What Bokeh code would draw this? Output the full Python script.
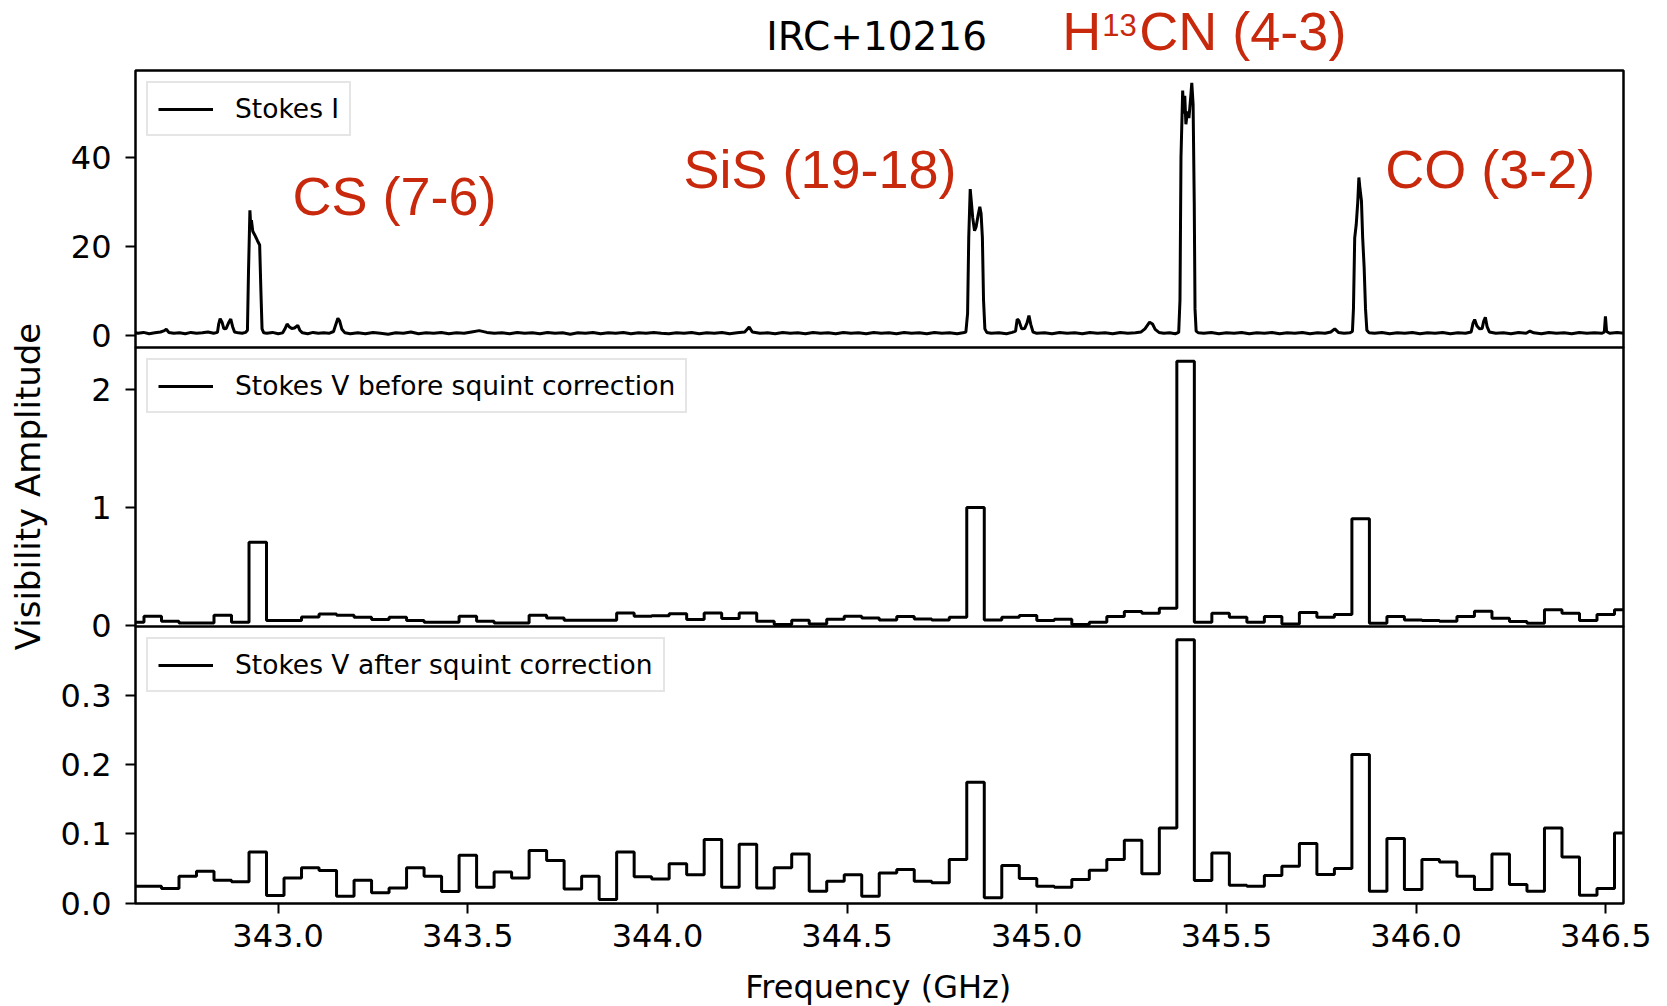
import numpy as np
from bokeh.plotting import figure
from bokeh.layouts import column, row
from bokeh.models import Range1d, FixedTicker, NumeralTickFormatter, Label
from bokeh.embed import file_html
from bokeh.resources import INLINE

# ---------------- data ----------------
# Stokes I spectrum: frequency (GHz) and visibility amplitude
stokes_i_freq = [
    342.600, 342.615, 342.630, 342.645, 342.660, 342.675, 342.690, 342.700, 342.705, 342.712,
    342.725, 342.740, 342.755, 342.770, 342.785, 342.800, 342.815, 342.830, 342.840,
    342.843, 342.847, 342.852, 342.857, 342.863, 342.869, 342.875, 342.880, 342.885, 342.895,
    342.905, 342.914,
    342.919, 342.9217, 342.9255, 342.9275, 342.9295, 342.933, 342.9386, 342.9457, 342.9512,
    342.9545, 342.9575, 342.962,
    342.970, 342.985, 343.000, 343.012, 343.018, 343.0235, 343.029, 343.036, 343.043, 343.0517,
    343.057, 343.064, 343.078, 343.092, 343.106, 343.120, 343.134, 343.146, 343.152, 343.1574,
    343.162, 343.168, 343.176, 343.190,
    343.21, 343.23, 343.25, 343.27, 343.29, 343.31, 343.33, 343.35, 343.37, 343.39,
    343.41, 343.43, 343.45, 343.47, 343.49, 343.51, 343.53, 343.55, 343.57, 343.59,
    343.61, 343.63, 343.65, 343.67, 343.69, 343.71, 343.73, 343.75, 343.77, 343.79,
    343.81, 343.83, 343.85, 343.87, 343.89, 343.91, 343.93, 343.95, 343.97, 343.99,
    344.01, 344.03, 344.05, 344.07, 344.09, 344.11, 344.13, 344.15, 344.17, 344.19,
    344.21, 344.23, 344.2417, 344.25, 344.27, 344.29, 344.31, 344.33, 344.35, 344.37,
    344.39, 344.41, 344.43, 344.45, 344.47, 344.49, 344.51, 344.53, 344.55, 344.57,
    344.59, 344.61, 344.63, 344.65, 344.67, 344.69, 344.71, 344.73, 344.75, 344.77,
    344.79, 344.805, 344.813,
    344.8175, 344.8205, 344.8244, 344.8275, 344.8310, 344.8358, 344.8400, 344.8450, 344.8497,
    344.8530, 344.8565, 344.8595, 344.8630, 344.868,
    344.88, 344.90, 344.92, 344.935, 344.944, 344.9483, 344.953, 344.960, 344.968, 344.974,
    344.9792, 344.984, 344.990, 345.00, 345.02, 345.04, 345.06, 345.08, 345.10, 345.12,
    345.14, 345.16, 345.18, 345.20, 345.22, 345.24, 345.26, 345.275, 345.285, 345.2973,
    345.305, 345.312, 345.322, 345.335, 345.35, 345.365, 345.374,
    345.3774, 345.3800, 345.3845, 345.3870, 345.3900, 345.3930, 345.3970, 345.4010, 345.4050,
    345.4085, 345.4120, 345.4150, 345.4170, 345.4200, 345.4260,
    345.44, 345.46, 345.48, 345.50, 345.52, 345.54, 345.56, 345.58, 345.60, 345.62,
    345.64, 345.66, 345.68, 345.70, 345.72, 345.74, 345.76, 345.775, 345.7854, 345.795,
    345.81, 345.825, 345.832,
    345.8347, 345.8380, 345.8420, 345.8460, 345.8490, 345.8520, 345.8558, 345.8590, 345.8629,
    345.8665, 345.8700, 345.876,
    345.89, 345.91, 345.93, 345.95, 345.97, 345.99, 346.01, 346.03, 346.05, 346.07,
    346.09, 346.11, 346.13, 346.145, 346.150, 346.1542, 346.160, 346.167, 346.174, 346.178,
    346.1824, 346.187, 346.193, 346.21, 346.23, 346.25, 346.27, 346.29, 346.30, 346.31,
    346.33, 346.35, 346.37, 346.39, 346.41, 346.43, 346.45, 346.47, 346.49, 346.496,
    346.4990, 346.502, 346.51, 346.53, 346.55, 346.57,
]
stokes_i_amp = [
    0.6, 0.8, 0.5, 0.7, 0.4, 0.6, 0.8, 1.1, 1.4, 0.7,
    0.5, 0.6, 0.4, 0.7, 0.5, 0.6, 0.8, 0.5, 0.7,
    2.5, 3.8, 3.0, 1.5, 1.6, 2.8, 3.7, 2.0, 0.8, 0.6,
    0.5, 0.7,
    1.2, 14.0, 28.2, 25.0, 26.0, 23.5, 22.6, 21.3, 20.4,
    10.0, 1.5, 0.6,
    0.5, 0.7, 0.4, 0.6, 1.5, 2.6, 2.0, 1.6, 1.7, 2.3,
    1.2, 0.6, 0.4, 0.7, 0.5, 0.6, 0.5, 0.9, 2.5, 3.9,
    3.3, 1.4, 0.6, 0.4,
    0.6, 0.4, 0.7, 0.5, 0.3, 0.6, 0.5, 0.8, 0.4, 0.6,
    0.5, 0.7, 0.4, 0.6, 0.5, 0.8, 1.1, 0.7, 0.5, 0.6,
    0.4, 0.7, 0.5, 0.6, 0.4, 0.7, 0.5, 0.6, 0.3, 0.6,
    0.5, 0.7, 0.4, 0.6, 0.5, 0.7, 0.4, 0.6, 0.5, 0.7,
    0.5, 0.4, 0.6, 0.5, 0.7, 0.4, 0.6, 0.5, 0.7, 0.4,
    0.6, 0.8, 1.9, 0.8, 0.5, 0.6, 0.4, 0.7, 0.5, 0.6,
    0.4, 0.7, 0.5, 0.6, 0.4, 0.7, 0.5, 0.6, 0.4, 0.7,
    0.5, 0.6, 0.4, 0.7, 0.5, 0.6, 0.4, 0.7, 0.5, 0.6,
    0.4, 0.6, 0.8,
    5.0, 22.0, 33.0, 30.0, 26.5, 23.6, 24.5, 27.0, 29.0,
    27.5, 22.0, 8.0, 1.5, 0.7,
    0.5, 0.6, 0.4, 0.7, 1.0, 3.7, 3.3, 1.5, 1.6, 2.8,
    4.5, 2.5, 0.8, 0.5, 0.6, 0.4, 0.7, 0.5, 0.6, 0.4,
    0.7, 0.5, 0.6, 0.4, 0.7, 0.5, 0.6, 0.8, 1.5, 3.0,
    2.6, 1.4, 0.7, 0.5, 0.6, 0.4, 0.7,
    8.0, 40.0, 55.2, 50.0, 54.0, 47.6, 50.5, 49.0, 53.0,
    56.9, 52.0, 30.0, 6.0, 1.0, 0.6,
    0.5, 0.7, 0.4, 0.6, 0.5, 0.7, 0.4, 0.6, 0.5, 0.7,
    0.4, 0.6, 0.5, 0.7, 0.4, 0.6, 0.5, 0.8, 1.5, 0.7,
    0.5, 0.6, 0.9,
    6.0, 22.0, 25.0, 30.0, 35.6, 33.0, 30.3, 22.0, 15.3,
    6.0, 1.2, 0.6,
    0.5, 0.7, 0.4, 0.6, 0.5, 0.7, 0.4, 0.6, 0.5, 0.7,
    0.4, 0.6, 0.5, 0.8, 2.8, 3.6, 2.2, 1.5, 1.6, 3.2,
    4.1, 2.0, 0.8, 0.5, 0.6, 0.4, 0.7, 0.5, 1.0, 0.6,
    0.4, 0.7, 0.5, 0.6, 0.4, 0.7, 0.5, 0.6, 0.5, 0.8,
    4.3, 0.9, 0.5, 0.7, 0.5, 0.6,
]

# Channel grid of the binned Stokes V spectra (GHz)
chan_start = 342.6001
chan_width = 0.04615
n_chan = 86

# Stokes V before squint correction (one value per channel)
stokes_v_before = [
    0.028, 0.079, 0.036, 0.022, 0.022, 0.087, 0.028, 0.706, 0.042, 0.042,
    0.073, 0.098, 0.087, 0.070, 0.051, 0.070, 0.042, 0.028, 0.028, 0.079,
    0.036, 0.022, 0.022, 0.087, 0.064, 0.045, 0.045, 0.045, 0.107, 0.079,
    0.084, 0.101, 0.051, 0.107, 0.059, 0.107, 0.036, 0.008, 0.045, 0.014,
    0.054, 0.079, 0.065, 0.048, 0.076, 0.056, 0.048, 0.070, 1.000, 0.048,
    0.070, 0.085, 0.042, 0.054, 0.008, 0.028, 0.076, 0.119, 0.105, 0.147,
    2.240, 0.028, 0.105, 0.070, 0.028, 0.076, 0.014, 0.110, 0.070, 0.093,
    0.904, 0.020, 0.076, 0.048, 0.042, 0.037, 0.076, 0.121, 0.062, 0.034,
    0.020, 0.133, 0.105, 0.042, 0.093, 0.133,
]

# Stokes V after squint correction (one value per channel)
stokes_v_after = [
    0.0245, 0.0245, 0.021, 0.039, 0.046, 0.033, 0.031, 0.074, 0.011, 0.0365,
    0.051, 0.047, 0.010, 0.033, 0.015, 0.022, 0.051, 0.039, 0.017, 0.069,
    0.023, 0.045, 0.0365, 0.076, 0.0616, 0.0206, 0.039, 0.0053, 0.074, 0.038,
    0.035, 0.057, 0.041, 0.092, 0.023, 0.085, 0.022, 0.051, 0.071, 0.0173,
    0.0317, 0.041, 0.010, 0.0437, 0.0486, 0.0317, 0.0293, 0.063, 0.1746, 0.0077,
    0.0544, 0.0356, 0.0245, 0.023, 0.0342, 0.0476, 0.063, 0.0909, 0.0423, 0.1087,
    0.3805, 0.0327, 0.0726, 0.026, 0.0245, 0.04, 0.0534, 0.0861, 0.0414, 0.05,
    0.2146, 0.0173, 0.0933, 0.0197, 0.063, 0.0596, 0.039, 0.0197, 0.0711, 0.027,
    0.0173, 0.1087, 0.0668, 0.0115, 0.0212, 0.1014,
]

x_ticks = [343.0, 343.5, 344.0, 344.5, 345.0, 345.5, 346.0, 346.5]
top_ticks = [0, 20, 40]
mid_ticks = [0, 1, 2]
bot_ticks = [0.0, 0.1, 0.2, 0.3]

legend_labels = ["Stokes I", "Stokes V before squint correction", "Stokes V after squint correction"]
title_text = "IRC+10216"
line_labels = ["CS (7-6)", "SiS (19-18)", "CO (3-2)"]
y_title = "Visibility Amplitude"
x_title = "Frequency (GHz)"

# ---------------- styling / layout ----------------
FONT = "DejaVu Sans"
RED_FONT = "Liberation Sans"
RED = "#c8290d"
LEFT_W = 52
W = 1608
BL = 83
BR = 37
OV = 22          # overlap between stacked panels, so the "0" tick labels are not cut
HEAD_H = 68
TOP_H = 2 + 277 + OV
MID_H = 279 + OV
BOT_H = 277 + 57
FOOT_H = 45
TOTAL_H = HEAD_H + TOP_H + (MID_H - OV) + (BOT_H - OV) + FOOT_H
xr = Range1d(342.6239, 346.5466)


def bare(width, height, xrange, yrange, bl, br):
    p = figure(width=width, height=height, x_range=xrange, y_range=yrange, title=None,
               output_backend="svg", toolbar_location=None,
               min_border_left=bl, min_border_right=br, min_border_top=0, min_border_bottom=0)
    p.axis.visible = False
    p.grid.visible = False
    p.outline_line_color = None
    return p


def panel(height, yr, ticks, fmt, border_top, border_bottom):
    p = figure(width=W, height=height, x_range=xr, y_range=Range1d(*yr), title=None,
               output_backend="svg", toolbar_location=None,
               min_border_left=BL, min_border_right=BR,
               min_border_top=border_top, min_border_bottom=border_bottom)
    p.grid.visible = False
    p.border_fill_alpha = 0
    p.outline_line_color = "black"
    p.outline_line_width = 2.5
    p.outline_line_alpha = 1.0
    ya = p.yaxis[0]
    ya.ticker = FixedTicker(ticks=ticks)
    ya.formatter = NumeralTickFormatter(format=fmt)
    ya.axis_line_color = None
    ya.major_tick_out = 10
    ya.major_tick_in = 0
    ya.major_tick_line_width = 2
    ya.minor_tick_line_color = None
    ya.major_label_text_font = FONT
    ya.major_label_text_font_size = "32px"
    ya.major_label_text_color = "black"
    ya.major_label_standoff = 14
    return p


def style_legend(p):
    lg = p.legend[0]
    lg.location = "top_left"
    lg.margin = 11
    lg.padding = 10
    lg.glyph_width = 55
    lg.glyph_height = 28
    lg.label_standoff = 22
    lg.label_text_font = FONT
    lg.label_text_font_size = "26.5px"
    lg.label_text_color = "black"
    lg.border_line_color = "#cccccc"
    lg.border_line_width = 2.5
    lg.background_fill_alpha = 0.8


edges = [chan_start + chan_width * i for i in range(n_chan + 1)]

# header strip (title and H13CN label above the top panel)
head = bare(W, HEAD_H, xr, Range1d(0, HEAD_H), BL, BR)
head.add_layout(Label(x=344.287, y=HEAD_H - 36, text=title_text, text_font=FONT,
                      text_font_size="39px", text_color="black", text_baseline="middle"))
head.add_layout(Label(x=345.0673, y=HEAD_H - 30, text="H", text_font=RED_FONT,
                      text_font_size="54px", text_color=RED, text_baseline="middle"))
head.add_layout(Label(x=345.1727, y=HEAD_H - 24, text="13", text_font=RED_FONT,
                      text_font_size="31px", text_color=RED, text_baseline="middle"))
head.add_layout(Label(x=345.2703, y=HEAD_H - 30, text="CN (4-3)", text_font=RED_FONT,
                      text_font_size="54px", text_color=RED, text_baseline="middle"))

# top panel
p1 = panel(TOP_H, (-2.7, 59.7), top_ticks, "0", 2, OV)
p1.xaxis.visible = False
p1.line(stokes_i_freq, stokes_i_amp, line_color="black", line_width=3,
        legend_label=legend_labels[0])
style_legend(p1)
p1.add_layout(Label(x=343.0377, y=31.4, text=line_labels[0], text_font=RED_FONT,
                    text_font_size="54px", text_color=RED, text_baseline="middle"))
p1.add_layout(Label(x=344.0683, y=37.5, text=line_labels[1], text_font=RED_FONT,
                    text_font_size="54px", text_color=RED, text_baseline="middle"))
p1.add_layout(Label(x=345.9186, y=37.5, text=line_labels[2], text_font=RED_FONT,
                    text_font_size="54px", text_color=RED, text_baseline="middle"))

# middle panel
p2 = panel(MID_H, (-0.008, 2.356), mid_ticks, "0", 0, OV)
p2.xaxis.visible = False
p2.margin = (-OV, 0, 0, 0)
p2.step(edges, stokes_v_before + [stokes_v_before[-1]], mode="after",
        line_color="black", line_width=3, legend_label=legend_labels[1])
style_legend(p2)

# bottom panel
p3 = panel(BOT_H, (-0.0005, 0.3995), bot_ticks, "0.0", 0, BOT_H - 277)
p3.margin = (-OV, 0, 0, 0)
p3.step(edges, stokes_v_after + [stokes_v_after[-1]], mode="after",
        line_color="black", line_width=3, legend_label=legend_labels[2])
style_legend(p3)
xa = p3.xaxis[0]
xa.ticker = FixedTicker(ticks=x_ticks)
xa.formatter = NumeralTickFormatter(format="0.0")
xa.axis_line_color = None
xa.major_tick_out = 10
xa.major_tick_in = 0
xa.major_tick_line_width = 2
xa.minor_tick_line_color = None
xa.major_label_text_font = FONT
xa.major_label_text_font_size = "32px"
xa.major_label_text_color = "black"
xa.major_label_standoff = 10

# footer strip with the x-axis title
foot = bare(W, FOOT_H, xr, Range1d(0, FOOT_H), BL, BR)
foot.add_layout(Label(x=344.582, y=19, text=x_title, text_font=FONT,
                      text_font_size="32px", text_color="black",
                      text_align="center", text_baseline="middle"))

# left strip with the shared y-axis title
left = bare(LEFT_W, TOTAL_H, Range1d(0, LEFT_W), Range1d(0, TOTAL_H), 0, 0)
left.add_layout(Label(x=27, y=TOTAL_H - 486, text=y_title, text_font=FONT,
                      text_font_size="34px", text_color="black", angle=np.pi / 2,
                      text_align="center", text_baseline="middle"))

layout = row(left, column(head, p1, p2, p3, foot, spacing=0), spacing=0)
open("out.html", "w").write(file_html(layout, INLINE))
